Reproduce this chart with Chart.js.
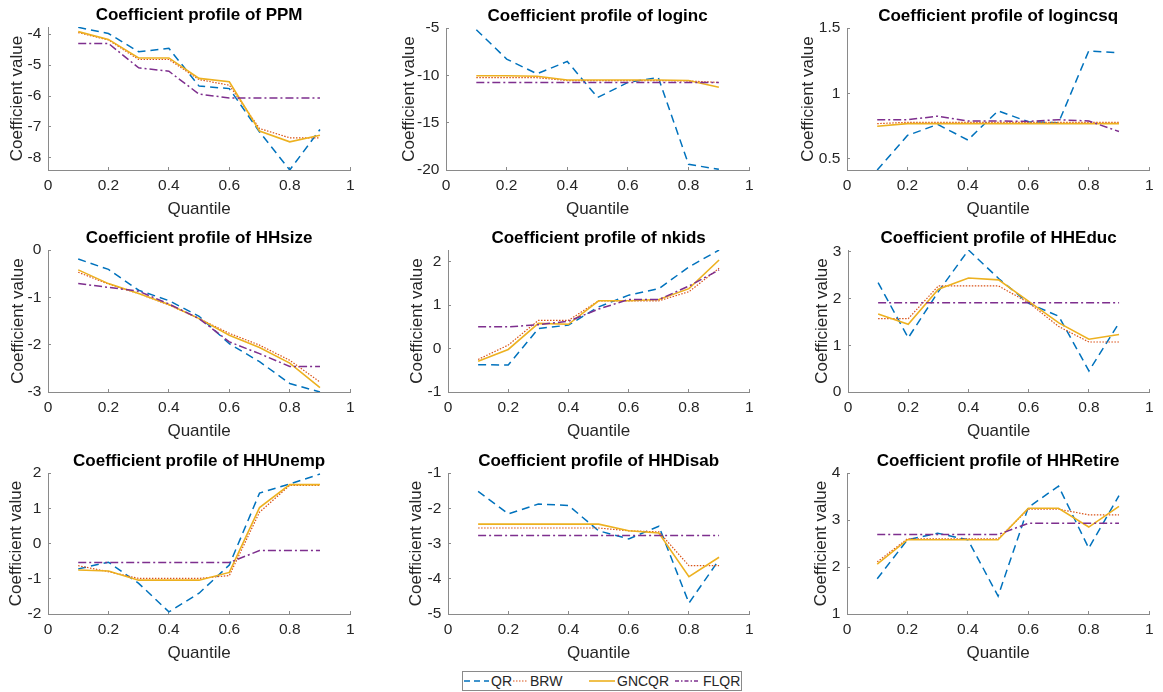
<!DOCTYPE html>
<html><head><meta charset="utf-8">
<script src="https://cdn.jsdelivr.net/npm/chart.js@4.4.1/dist/chart.umd.min.js"></script>
<style>
html,body{margin:0;padding:0;background:#fff;overflow:hidden;width:1163px;height:692px;position:relative;font-family:"Liberation Sans",Arial,Helvetica,sans-serif}
canvas{position:absolute}
#legend{position:absolute;left:462px;top:671px;width:278px;height:18px;border:1px solid #8a8a8a;background:#fff;font-size:14px;color:#262626}
#legend svg{position:absolute;top:4px}
#legend span{position:absolute;top:0;line-height:18px}
</style></head><body>
<div id="legend"></div>
<script>
// ---------- data ----------
const quantiles = [0.1, 0.2, 0.3, 0.4, 0.5, 0.6, 0.7, 0.8, 0.9];
const xTicks = [0, 0.2, 0.4, 0.6, 0.8, 1];
const seriesNames = ['QR', 'BRW', 'GNCQR', 'FLQR'];
const variables = ['PPM', 'loginc', 'logincsq', 'HHsize', 'nkids', 'HHEduc', 'HHUnemp', 'HHDisab', 'HHRetire'];

const PPM_QR    = [-3.78, -3.98, -4.57, -4.46, -5.68, -5.76, -7.16, -8.39, -7.08];
const PPM_BRW   = [-3.95, -4.19, -4.82, -4.82, -5.47, -5.65, -7.05, -7.35, -7.35];
const PPM_GNCQR = [-3.92, -4.17, -4.77, -4.77, -5.43, -5.54, -7.13, -7.48, -7.27];
const PPM_FLQR  = [-4.30, -4.30, -5.09, -5.20, -5.94, -6.06, -6.06, -6.06, -6.06];
const PPM_yTicks = [-8, -7, -6, -5, -4];
const PPM_yRange = [-8.39, -3.77];

const loginc_QR    = [-5.18, -8.28, -9.84, -8.53, -12.34, -10.75, -10.22, -19.4, -19.93];
const loginc_BRW   = [-10.25, -10.25, -10.25, -10.55, -10.55, -10.55, -10.55, -10.6, -10.75];
const loginc_GNCQR = [-10.05, -10.05, -10.1, -10.5, -10.5, -10.5, -10.5, -10.55, -11.25];
const loginc_FLQR  = [-10.75, -10.75, -10.75, -10.75, -10.75, -10.75, -10.75, -10.75, -10.75];
const loginc_yTicks = [-20, -15, -10, -5];
const loginc_yRange = [-20, -5];

const logincsq_QR    = [0.416, 0.68, 0.764, 0.645, 0.868, 0.784, 0.777, 1.325, 1.31];
const logincsq_BRW   = [0.77, 0.78, 0.78, 0.78, 0.78, 0.78, 0.78, 0.78, 0.78];
const logincsq_GNCQR = [0.75, 0.77, 0.77, 0.77, 0.77, 0.77, 0.77, 0.77, 0.77];
const logincsq_FLQR  = [0.80, 0.80, 0.827, 0.79, 0.79, 0.787, 0.80, 0.79, 0.71];
const logincsq_yTicks = [0.5, 1, 1.5];
const logincsq_yRange = [0.416, 1.5];

const HHsize_QR    = [-0.19, -0.41, -0.85, -1.07, -1.40, -1.98, -2.36, -2.82, -3.0];
const HHsize_BRW   = [-0.47, -0.72, -0.92, -1.16, -1.45, -1.76, -2.01, -2.33, -2.79];
const HHsize_GNCQR = [-0.42, -0.71, -0.92, -1.15, -1.45, -1.80, -2.06, -2.39, -2.91];
const HHsize_FLQR  = [-0.71, -0.79, -0.87, -1.14, -1.45, -1.94, -2.19, -2.46, -2.46];
const HHsize_yTicks = [-3, -2, -1, 0];
const HHsize_yRange = [-3, 0];

const nkids_QR    = [-0.37, -0.38, 0.46, 0.54, 0.96, 1.23, 1.38, 1.88, 2.27];
const nkids_BRW   = [-0.25, 0.08, 0.65, 0.65, 1.10, 1.10, 1.10, 1.31, 1.85];
const nkids_GNCQR = [-0.29, -0.02, 0.58, 0.56, 1.10, 1.10, 1.13, 1.38, 2.04];
const nkids_FLQR  = [0.50, 0.50, 0.55, 0.63, 0.91, 1.13, 1.13, 1.44, 1.81];
const nkids_yTicks = [-1, 0, 1, 2];
const nkids_yRange = [-1, 2.27];

const HHEduc_QR    = [2.34, 1.16, 2.15, 3.04, 2.43, 1.90, 1.62, 0.45, 1.48];
const HHEduc_BRW   = [1.57, 1.57, 2.27, 2.27, 2.27, 1.91, 1.40, 1.07, 1.07];
const HHEduc_GNCQR = [1.67, 1.45, 2.20, 2.44, 2.40, 1.94, 1.48, 1.13, 1.23];
const HHEduc_FLQR  = [1.91, 1.91, 1.91, 1.91, 1.91, 1.91, 1.91, 1.91, 1.91];
const HHEduc_yTicks = [0, 1, 2, 3];
const HHEduc_yRange = [0, 3.04];

const HHUnemp_QR    = [-0.72, -0.53, -1.13, -1.94, -1.41, -0.61, 1.43, 1.69, 1.97];
const HHUnemp_BRW   = [-0.63, -0.80, -0.99, -0.99, -0.99, -0.91, 0.89, 1.65, 1.65];
const HHUnemp_GNCQR = [-0.75, -0.78, -1.04, -1.04, -1.04, -0.82, 1.02, 1.67, 1.67];
const HHUnemp_FLQR  = [-0.54, -0.54, -0.54, -0.54, -0.54, -0.54, -0.20, -0.20, -0.20];
const HHUnemp_yTicks = [-2, -1, 0, 1, 2];
const HHUnemp_yRange = [-2, 2];

const HHDisab_QR    = [-1.52, -2.16, -1.88, -1.92, -2.64, -2.87, -2.51, -4.69, -3.46];
const HHDisab_BRW   = [-2.56, -2.56, -2.56, -2.56, -2.56, -2.64, -2.67, -3.63, -3.63];
const HHDisab_GNCQR = [-2.45, -2.45, -2.45, -2.45, -2.45, -2.64, -2.70, -3.94, -3.39];
const HHDisab_FLQR  = [-2.77, -2.77, -2.77, -2.77, -2.77, -2.77, -2.77, -2.77, -2.77];
const HHDisab_yTicks = [-5, -4, -3, -2, -1];
const HHDisab_yRange = [-5, -1];

const HHRetire_QR    = [1.75, 2.58, 2.72, 2.58, 1.38, 3.27, 3.72, 2.40, 3.52];
const HHRetire_BRW   = [2.11, 2.60, 2.60, 2.60, 2.60, 3.23, 3.23, 3.11, 3.11];
const HHRetire_GNCQR = [2.06, 2.58, 2.58, 2.58, 2.58, 3.25, 3.25, 2.85, 3.29];
const HHRetire_FLQR  = [2.69, 2.69, 2.69, 2.69, 2.69, 2.93, 2.93, 2.93, 2.93];
const HHRetire_yTicks = [1, 2, 3, 4];
const HHRetire_yRange = [1, 4];

// ---------- tables built from the arrays ----------
const seriesByPanel = {
  PPM: [PPM_QR, PPM_BRW, PPM_GNCQR, PPM_FLQR],
  loginc: [loginc_QR, loginc_BRW, loginc_GNCQR, loginc_FLQR],
  logincsq: [logincsq_QR, logincsq_BRW, logincsq_GNCQR, logincsq_FLQR],
  HHsize: [HHsize_QR, HHsize_BRW, HHsize_GNCQR, HHsize_FLQR],
  nkids: [nkids_QR, nkids_BRW, nkids_GNCQR, nkids_FLQR],
  HHEduc: [HHEduc_QR, HHEduc_BRW, HHEduc_GNCQR, HHEduc_FLQR],
  HHUnemp: [HHUnemp_QR, HHUnemp_BRW, HHUnemp_GNCQR, HHUnemp_FLQR],
  HHDisab: [HHDisab_QR, HHDisab_BRW, HHDisab_GNCQR, HHDisab_FLQR],
  HHRetire: [HHRetire_QR, HHRetire_BRW, HHRetire_GNCQR, HHRetire_FLQR]
};
const yTicksByPanel = {PPM:PPM_yTicks, loginc:loginc_yTicks, logincsq:logincsq_yTicks, HHsize:HHsize_yTicks, nkids:nkids_yTicks, HHEduc:HHEduc_yTicks, HHUnemp:HHUnemp_yTicks, HHDisab:HHDisab_yTicks, HHRetire:HHRetire_yTicks};
const yRangeByPanel = {PPM:PPM_yRange, loginc:loginc_yRange, logincsq:logincsq_yRange, HHsize:HHsize_yRange, nkids:nkids_yRange, HHEduc:HHEduc_yRange, HHUnemp:HHUnemp_yRange, HHDisab:HHDisab_yRange, HHRetire:HHRetire_yRange};

// ---------- styles / layout ----------
const FONT = '"Liberation Sans", Arial, Helvetica, sans-serif';
const styles = [
  {color:'#0072BD', width:1.5, dash:[8,5], order:4},
  {color:'#D95319', width:1.2, dash:[1.5,1.5], order:3},
  {color:'#EDB120', width:1.6, dash:[], order:2},
  {color:'#7E2F8E', width:1.5, dash:[8,3,2,3], order:1}
];
const legendStyles = [[6,4],[1.5,1.5],[],[4,2,1.5,2]];
const legendSample = [[1, 25], [50, 15], [126, 26], [212, 25]]; // left, width inside legend box
const legendTextLeft = [28, 67, 154, 240];
// plot-area boxes (left, top, right, bottom) and y-label distance
const boxes = [
  [48, 27, 358, 170, 31], [446, 28, 757, 170, 37], [847, 28, 1157, 170, 39],
  [48, 250, 358, 392, 30], [448, 250, 757, 392, 31], [848, 250, 1157, 392, 26],
  [48, 473, 358, 614, 31.5], [448, 473, 757, 614, 31.5], [847, 473, 1157, 614, 25.5]
];
const AXIS = '#8a8a8a', TXT = '#262626';
const YW = 50, PADR = 6, TITLEH = 26, XH = 50;
const fmt = v => String(Math.round(v * 1000) / 1000);

variables.forEach((name, i) => {
  const [L, T, R, B, d] = boxes[i];
  const cv = document.createElement('canvas');
  const left = L - YW, top = T - TITLEH;
  const w = R + PADR - left, h = TITLEH + (B - T) + XH;
  cv.width = w; cv.height = h;
  cv.style.left = left + 'px'; cv.style.top = top + 'px';
  cv.style.width = w + 'px'; cv.style.height = h + 'px';
  document.body.appendChild(cv);
  const ser = seriesByPanel[name];
  const datasets = ser.map((vals, k) => ({
    label: seriesNames[k],
    data: quantiles.map((q, j) => ({x: q, y: vals[j]})),
    borderColor: styles[k].color,
    borderWidth: styles[k].width,
    borderDash: styles[k].dash,
    order: styles[k].order,
    pointRadius: 0, fill: false, tension: 0
  }));
  const yr = yRangeByPanel[name], yt = yTicksByPanel[name];
  new Chart(cv, {
    type: 'line',
    data: {datasets},
    options: {
      responsive: false, animation: false, devicePixelRatio: 1,
      layout: {padding: {left: 0, right: PADR, top: 0, bottom: 0}},
      plugins: {
        legend: {display: false}, tooltip: {enabled: false},
        title: {display: true, fullSize: false, text: 'Coefficient profile of ' + name, color: '#000',
          font: {family: FONT, size: 17, weight: 'bold', lineHeight: '20px'}, padding: {top: 4, bottom: 2}}
      },
      scales: {
        x: {
          type: 'linear', min: 0, max: 1,
          afterBuildTicks: s => { s.ticks = xTicks.map(v => ({value: v})); },
          afterFit: s => { s.height = XH; },
          ticks: {font: {family: FONT, size: 15.5}, color: TXT, padding: 9.5, maxRotation: 0, autoSkip: false, callback: v => fmt(v)},
          grid: {display: true, drawOnChartArea: false, drawTicks: true, tickLength: -3, color: AXIS},
          border: {display: true, color: AXIS, width: 1},
          title: {display: true, text: 'Quantile', color: TXT, font: {family: FONT, size: 17, lineHeight: 1.2}, padding: {top: 0, bottom: 0.8}}
        },
        y: {
          type: 'linear', min: yr[0], max: yr[1],
          afterBuildTicks: s => { s.ticks = yt.map(v => ({value: v})); },
          afterFit: s => { s.width = YW; },
          ticks: {font: {family: FONT, size: 15.5}, color: TXT, padding: 9.6, autoSkip: false, callback: v => fmt(v)},
          grid: {display: true, drawOnChartArea: false, drawTicks: true, tickLength: -3, color: AXIS},
          border: {display: true, color: AXIS, width: 1},
          title: {display: true, text: 'Coefficient value', color: TXT, font: {family: FONT, size: 17, lineHeight: 1.2}, padding: {top: YW - d - 10.2, bottom: 0}}
        }
      }
    }
  });
});

// ---------- legend ----------
const lg = document.getElementById('legend');
seriesNames.forEach((n, k) => {
  const st = styles[k], ls = legendStyles[k], [x0, sw] = legendSample[k];
  const svg = document.createElementNS('http://www.w3.org/2000/svg', 'svg');
  svg.setAttribute('width', String(sw)); svg.setAttribute('height', '10');
  svg.style.left = x0 + 'px';
  svg.innerHTML = '<line x1="0" y1="5" x2="' + sw + '" y2="5" stroke="' + st.color + '" stroke-width="' + st.width + '"' + (ls.length ? ' stroke-dasharray="' + ls.join(',') + '"' : '') + '/>';
  lg.appendChild(svg);
  const t = document.createElement('span');
  t.textContent = n; t.style.left = legendTextLeft[k] + 'px';
  lg.appendChild(t);
});
</script>
</body></html>
